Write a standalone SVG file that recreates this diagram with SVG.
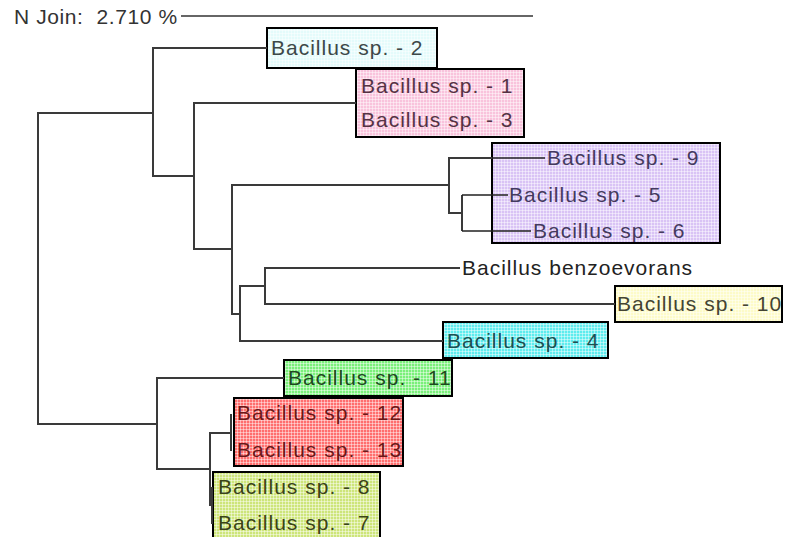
<svg xmlns="http://www.w3.org/2000/svg" width="797" height="537" viewBox="0 0 797 537">
  <defs>
    <!-- fine light grid laid over the coloured cluster boxes -->
    <pattern id="grid" width="3" height="3" patternUnits="userSpaceOnUse">
      <path d="M0,0.5H3M0.5,0V3" stroke="#ffffff" stroke-width="1" opacity="0.45" fill="none"/>
    </pattern>
    <style>
      .lbl { font-family: "Liberation Sans", Arial, sans-serif; font-size: 21px; letter-spacing: 1px; }
      .title { font-family: "Liberation Sans", Arial, sans-serif; font-size: 21px; letter-spacing: 0.6px; fill: #333333; white-space: pre; }
      .box { stroke: #000000; stroke-width: 2; }
      .tex { fill: url(#grid); stroke: none; }
      .edge { fill: none; stroke: #3a3a3a; stroke-width: 2; }
      .thin { fill: none; stroke: #222222; stroke-width: 1.3; }
    </style>
  </defs>

  <rect x="0" y="0" width="797" height="537" fill="#ffffff"/>

  <!-- scale header -->
  <g id="scale">
    <text class="title" x="14" y="24" xml:space="preserve">N Join:  2.710 %</text>
    <line x1="181" y1="16" x2="533" y2="16" stroke="#333333" stroke-width="1.5"/>
  </g>

  <!-- cluster boxes and leaf labels -->
  <g id="node-sp2">
    <rect class="box" x="267" y="28" width="170" height="40" fill="#e4fbfb"/>
    <rect class="tex" x="268" y="29" width="168" height="38"/>
    <text class="lbl" x="271" y="55" fill="#3d4848">Bacillus sp. - 2</text>
  </g>

  <g id="cluster-pink">
    <rect class="box" x="356" y="69" width="168" height="68" fill="#f9c3dc"/>
    <rect class="tex" x="357" y="70" width="166" height="66"/>
    <g id="node-sp1"><text class="lbl" x="361" y="93" fill="#553344">Bacillus sp. - 1</text></g>
    <g id="node-sp3"><text class="lbl" x="361" y="127" fill="#553344">Bacillus sp. - 3</text></g>
  </g>

  <g id="cluster-purple">
    <rect class="box" x="492" y="143" width="228" height="100" fill="#d9c3f5"/>
    <rect class="tex" x="493" y="144" width="226" height="98"/>
    <g id="node-sp9"><text class="lbl" x="547" y="165" fill="#443a5e">Bacillus sp. - 9</text></g>
    <g id="node-sp5"><text class="lbl" x="509" y="202" fill="#443a5e">Bacillus sp. - 5</text></g>
    <g id="node-sp6"><text class="lbl" x="533" y="238" fill="#443a5e">Bacillus sp. - 6</text></g>
  </g>

  <g id="node-benzoevorans">
    <text class="lbl" x="462" y="275" fill="#222222">Bacillus benzoevorans</text>
  </g>

  <g id="node-sp10">
    <rect class="box" x="615" y="286" width="167" height="36" fill="#fdfbc8"/>
    <rect class="tex" x="616" y="287" width="165" height="34"/>
    <text class="lbl" x="617" y="311" fill="#444433">Bacillus sp. - 10</text>
  </g>

  <g id="node-sp4">
    <rect class="box" x="443" y="322" width="165" height="36" fill="#5eecee"/>
    <rect class="tex" x="444" y="323" width="163" height="34"/>
    <text class="lbl" x="447" y="348" fill="#1d4f50">Bacillus sp. - 4</text>
  </g>

  <g id="node-sp11">
    <rect class="box" x="284" y="360" width="168" height="36" fill="#7af07a"/>
    <rect class="tex" x="285" y="361" width="166" height="34"/>
    <text class="lbl" x="288" y="385" fill="#1e4a1e">Bacillus sp. - 11</text>
  </g>

  <g id="cluster-red">
    <clipPath id="redclip"><rect x="234" y="398" width="169" height="68"/></clipPath>
    <rect class="box" x="234" y="398" width="169" height="68" fill="#ff6e6e"/>
    <rect class="tex" x="235" y="399" width="167" height="66"/>
    <g clip-path="url(#redclip)">
      <g id="node-sp12"><text class="lbl" x="237" y="420" fill="#6a1818">Bacillus sp. - 12</text></g>
      <g id="node-sp13"><text class="lbl" x="237" y="457" fill="#6a1818">Bacillus sp. - 13</text></g>
    </g>
    <rect x="234" y="398" width="169" height="68" fill="none" stroke="#000" stroke-width="2"/>
  </g>

  <g id="cluster-olive">
    <rect class="box" x="213" y="472" width="167" height="75" fill="#cde57a"/>
    <rect class="tex" x="214" y="473" width="165" height="73"/>
    <g id="node-sp8"><text class="lbl" x="218" y="494" fill="#3a4418">Bacillus sp. - 8</text></g>
    <g id="node-sp7"><text class="lbl" x="218" y="530" fill="#3a4418">Bacillus sp. - 7</text></g>
  </g>

  <!-- dendrogram branches -->
  <g id="connectors">
    <path class="edge" d="M153,113 H38 V424 H157"/>
    <path class="edge" d="M267,48 H153 V176 H194"/>
    <path class="edge" d="M356,103 H194 V249 H232"/>
    <path class="edge" d="M449,185 H232 V314 H240"/>
    <path class="edge" d="M492,158 H449 V213 H462"/>
    <path class="thin" d="M492,158 H545"/>
    <path class="edge" d="M462,195 V231"/>
    <path class="thin" d="M462,195 H508 M462,231 H531"/>
    <path class="edge" d="M265,286 H240 V341 H443"/>
    <path class="edge" d="M460,268 H265 V304 H615"/>
    <path class="edge" d="M284,378 H157 V469 H210"/>
    <path class="edge" d="M231,433 H210 V505 H212"/>
    <path class="edge" d="M231,414 V451"/>
    <path class="edge" d="M212,487 V524"/>
  </g>
</svg>
